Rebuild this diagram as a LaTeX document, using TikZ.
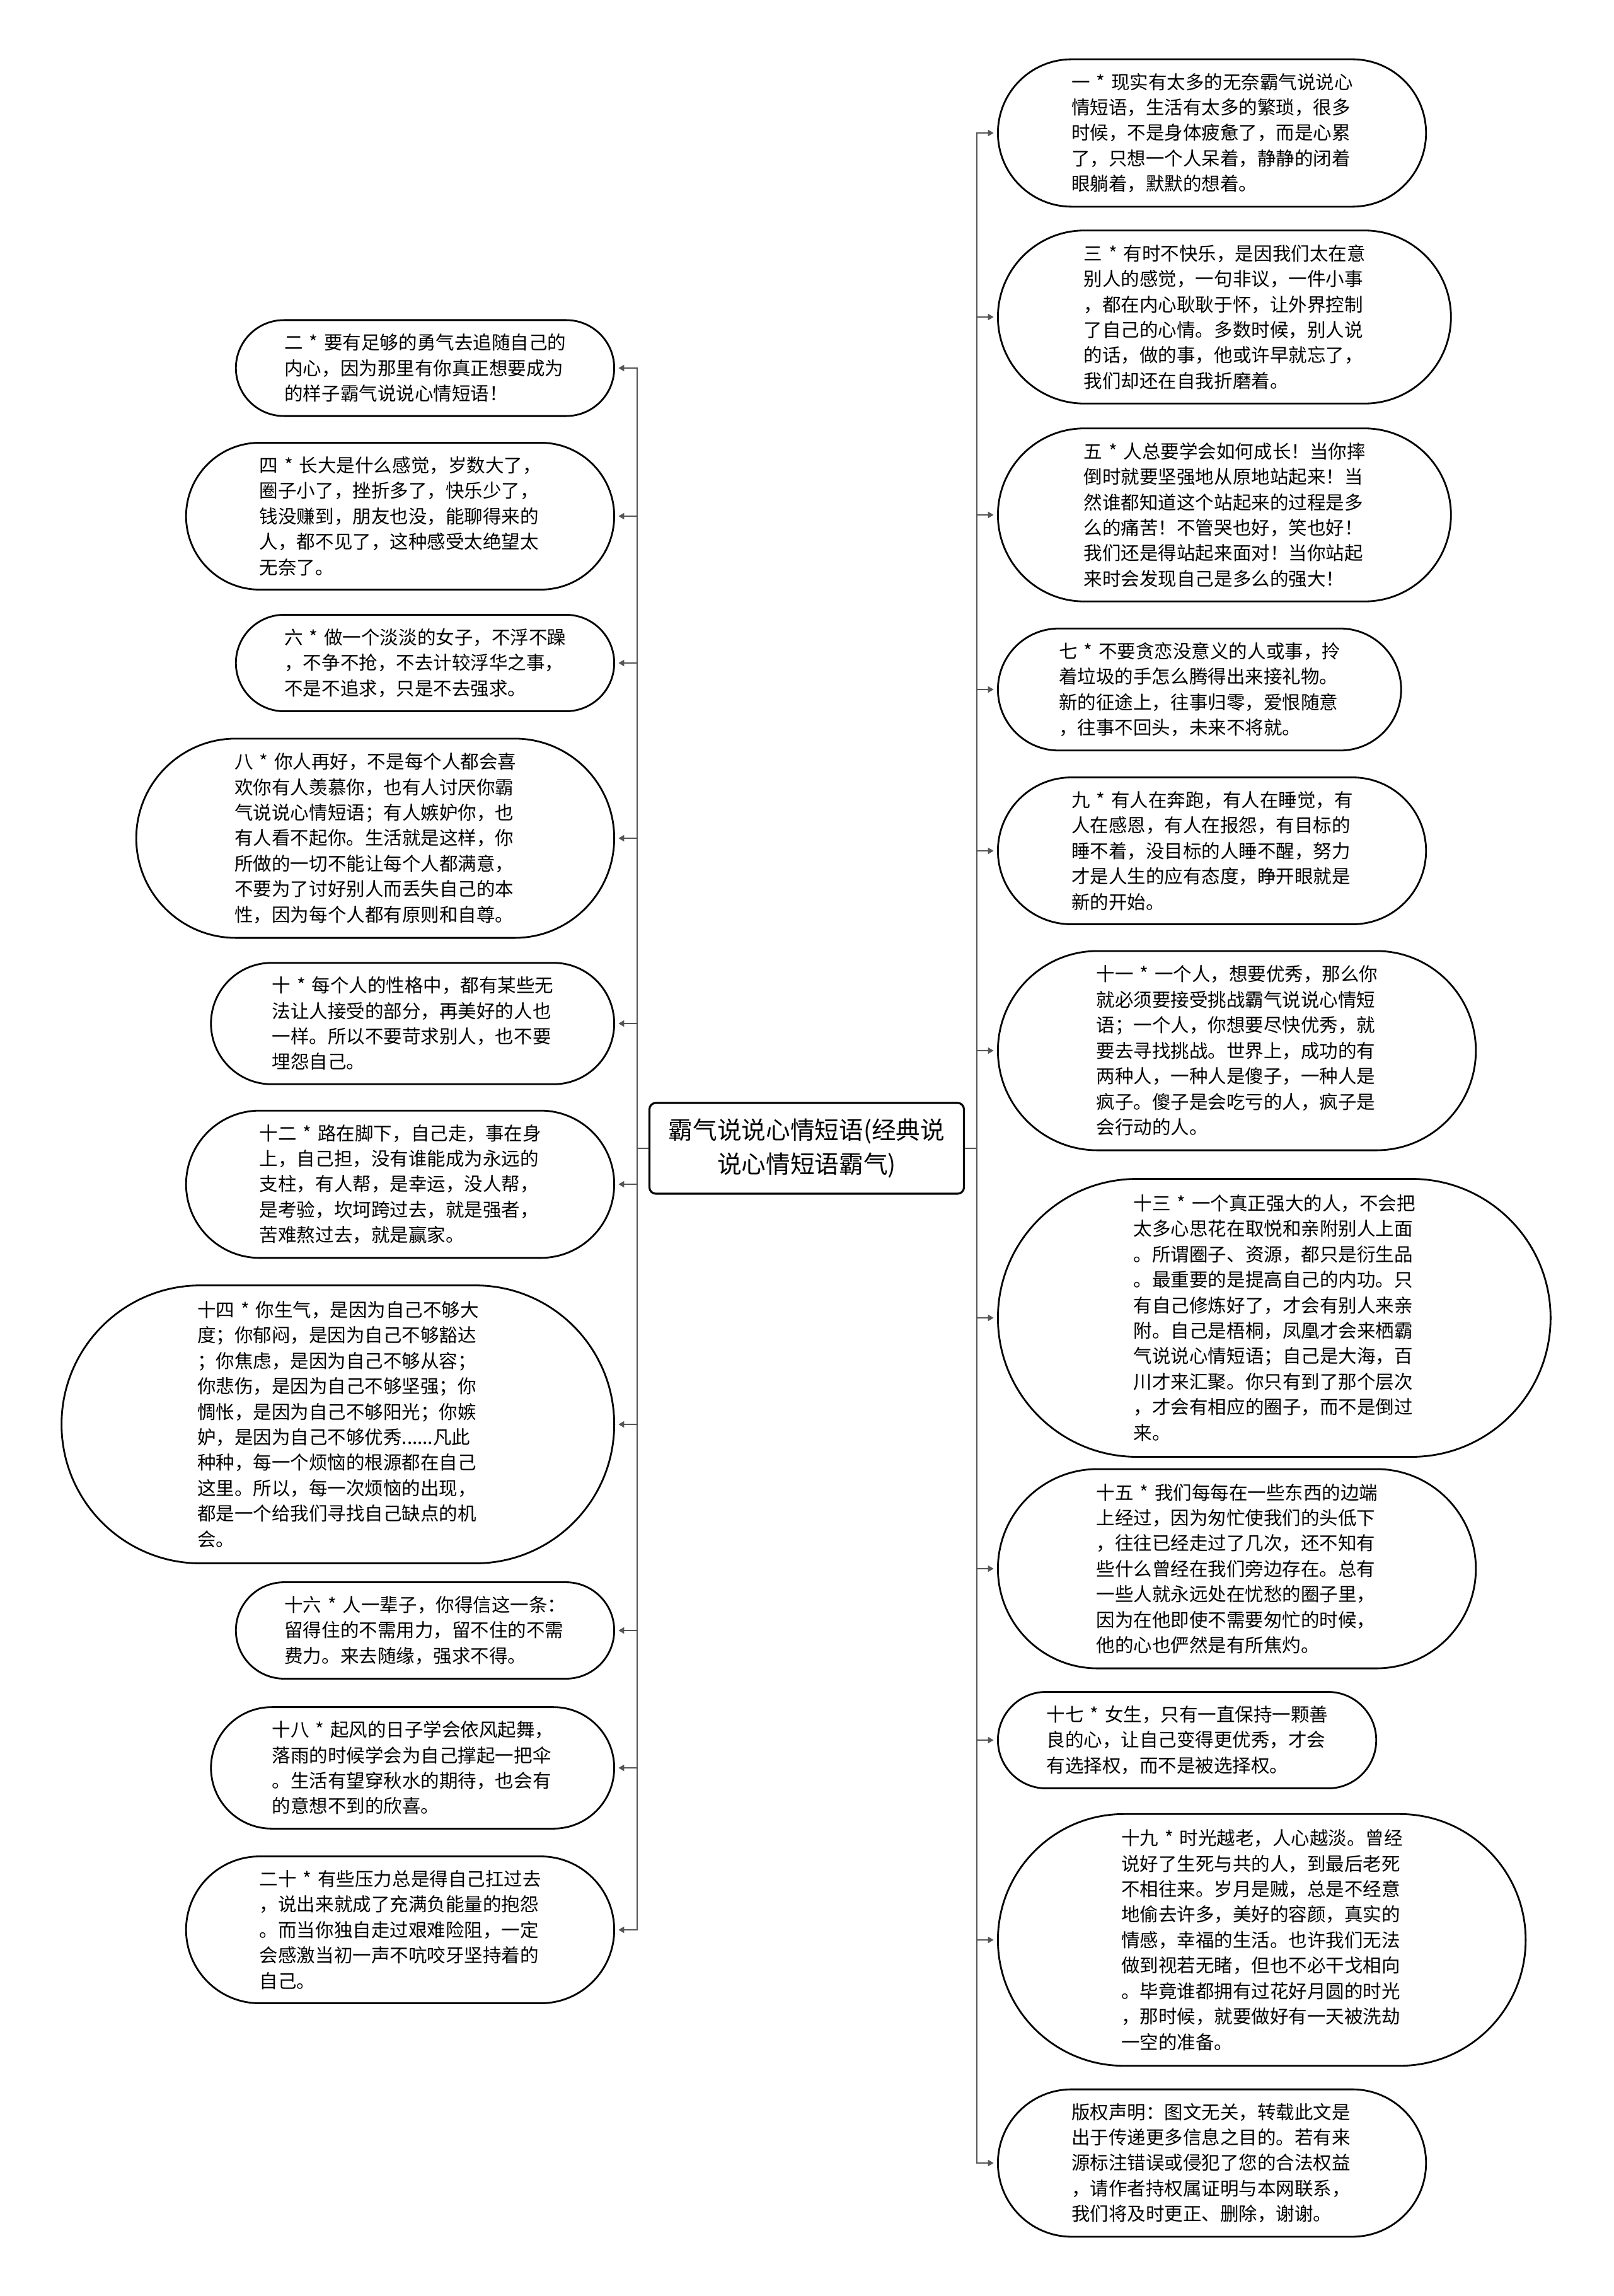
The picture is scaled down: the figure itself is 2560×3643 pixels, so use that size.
\documentclass[tikz,border=0pt]{standalone}
\usepackage{fontspec}
\setmainfont{Noto Sans CJK SC}
\usepackage{tikz}
\usetikzlibrary{shapes.misc, arrows.meta}
\definecolor{branch}{RGB}{85,85,85}
\newcommand{\leaffont}{\fontsize{8.4pt}{11.5pt}\selectfont}
\newcommand{\topicfont}{\fontsize{11pt}{15.2pt}\selectfont}
\tikzstyle{leaf}=[draw,fill=white,rounded rectangle,line width=0.8pt,text width=44.6mm,align=left,inner xsep=0.1mm,inner ysep=2.2mm,font=\leaffont]
\tikzstyle{topic}=[draw,fill=white,rectangle,rounded corners=1mm,line width=0.9pt,minimum width=49.9mm,minimum height=14.4mm,align=center,font=\topicfont]
\tikzstyle{link}=[draw=branch,line width=0.7pt,shorten >=1.5pt]
\tikzset{nlines/.style={minimum height={2.5mm+#1*4.16mm}, minimum width={46mm+0.95*(2.5mm+#1*4.16mm)}}}

\begin{document}
\begin{tikzpicture}[x=0.1mm,y=-0.1mm,>={Triangle[length=2.6pt,width=2.8pt]}]
    \useasboundingbox (0,0) rectangle (2560,3643);
    \node[topic] (hub) at (1280,1822) {霸气说说心情短语(经典说\\说心情短语霸气)};
    % left side
    \node[leaf, nlines=3, anchor=east] (s2) at (976,584) {二~*~要有足够的勇气去追随自己的\\内心，因为那里有你真正想要成为\\的样子霸气说说心情短语！};
    \node[leaf, nlines=5, anchor=east] (s4) at (976,819) {四~*~长大是什么感觉，岁数大了，\\圈子小了，挫折多了，快乐少了，\\钱没赚到，朋友也没，能聊得来的\\人，都不见了，这种感受太绝望太\\无奈了。};
    \node[leaf, nlines=3, anchor=east] (s6) at (976,1052) {六~*~做一个淡淡的女子，不浮不躁\\，不争不抢，不去计较浮华之事，\\不是不追求，只是不去强求。};
    \node[leaf, nlines=7, anchor=east] (s8) at (976,1330) {八~*~你人再好，不是每个人都会喜\\欢你有人羡慕你，也有人讨厌你霸\\气说说心情短语；有人嫉妒你，也\\有人看不起你。生活就是这样，你\\所做的一切不能让每个人都满意，\\不要为了讨好别人而丢失自己的本\\性，因为每个人都有原则和自尊。};
    \node[leaf, nlines=4, anchor=east] (s10) at (976,1624) {十~*~每个人的性格中，都有某些无\\法让人接受的部分，再美好的人也\\一样。所以不要苛求别人，也不要\\埋怨自己。};
    \node[leaf, nlines=5, anchor=east] (s12) at (976,1879) {十二~*~路在脚下，自己走，事在身\\上，自己担，没有谁能成为永远的\\支柱，有人帮，是幸运，没人帮，\\是考验，坎坷跨过去，就是强者，\\苦难熬过去，就是赢家。};
    \node[leaf, nlines=10, anchor=east] (s14) at (976,2260) {十四~*~你生气，是因为自己不够大\\度；你郁闷，是因为自己不够豁达\\；你焦虑，是因为自己不够从容；\\你悲伤，是因为自己不够坚强；你\\惆怅，是因为自己不够阳光；你嫉\\妒，是因为自己不够优秀......凡此\\种种，每一个烦恼的根源都在自己\\这里。所以，每一次烦恼的出现，\\都是一个给我们寻找自己缺点的机\\会。};
    \node[leaf, nlines=3, anchor=east] (s16) at (976,2587) {十六~*~人一辈子，你得信这一条：\\留得住的不需用力，留不住的不需\\费力。来去随缘，强求不得。};
    \node[leaf, nlines=4, anchor=east] (s18) at (976,2805) {十八~*~起风的日子学会依风起舞，\\落雨的时候学会为自己撑起一把伞\\。生活有望穿秋水的期待，也会有\\的意想不到的欣喜。};
    \node[leaf, nlines=5, anchor=east] (s20) at (976,3062) {二十~*~有些压力总是得自己扛过去\\，说出来就成了充满负能量的抱怨\\。而当你独自走过艰难险阻，一定\\会感激当初一声不吭咬牙坚持着的\\自己。};
    % right side
    \node[leaf, nlines=5, anchor=west] (s1) at (1582,211) {一~*~现实有太多的无奈霸气说说心\\情短语，生活有太多的繁琐，很多\\时候，不是身体疲惫了，而是心累\\了，只想一个人呆着，静静的闭着\\眼躺着，默默的想着。};
    \node[leaf, nlines=6, anchor=west] (s3) at (1582,503) {三~*~有时不快乐，是因我们太在意\\别人的感觉，一句非议，一件小事\\，都在内心耿耿于怀，让外界控制\\了自己的心情。多数时候，别人说\\的话，做的事，他或许早就忘了，\\我们却还在自我折磨着。};
    \node[leaf, nlines=6, anchor=west] (s5) at (1582,817) {五~*~人总要学会如何成长！当你摔\\倒时就要坚强地从原地站起来！当\\然谁都知道这个站起来的过程是多\\么的痛苦！不管哭也好，笑也好！\\我们还是得站起来面对！当你站起\\来时会发现自己是多么的强大！};
    \node[leaf, nlines=4, anchor=west] (s7) at (1582,1094) {七~*~不要贪恋没意义的人或事，拎\\着垃圾的手怎么腾得出来接礼物。\\新的征途上，往事归零，爱恨随意\\，往事不回头，未来不将就。};
    \node[leaf, nlines=5, anchor=west] (s9) at (1582,1350) {九~*~有人在奔跑，有人在睡觉，有\\人在感恩，有人在报怨，有目标的\\睡不着，没目标的人睡不醒，努力\\才是人生的应有态度，睁开眼就是\\新的开始。};
    \node[leaf, nlines=7, anchor=west] (s11) at (1582,1667) {十一~*~一个人，想要优秀，那么你\\就必须要接受挑战霸气说说心情短\\语；一个人，你想要尽快优秀，就\\要去寻找挑战。世界上，成功的有\\两种人，一种人是傻子，一种人是\\疯子。傻子是会吃亏的人，疯子是\\会行动的人。};
    \node[leaf, nlines=10, anchor=west] (s13) at (1582,2091) {十三~*~一个真正强大的人，不会把\\太多心思花在取悦和亲附别人上面\\。所谓圈子、资源，都只是衍生品\\。最重要的是提高自己的内功。只\\有自己修炼好了，才会有别人来亲\\附。自己是梧桐，凤凰才会来栖霸\\气说说心情短语；自己是大海，百\\川才来汇聚。你只有到了那个层次\\，才会有相应的圈子，而不是倒过\\来。};
    \node[leaf, nlines=7, anchor=west] (s15) at (1582,2489) {十五~*~我们每每在一些东西的边端\\上经过，因为匆忙使我们的头低下\\，往往已经走过了几次，还不知有\\些什么曾经在我们旁边存在。总有\\一些人就永远处在忧愁的圈子里，\\因为在他即使不需要匆忙的时候，\\他的心也俨然是有所焦灼。};
    \node[leaf, nlines=3, anchor=west] (s17) at (1582,2761) {十七~*~女生，只有一直保持一颗善\\良的心，让自己变得更优秀，才会\\有选择权，而不是被选择权。};
    \node[leaf, nlines=9, anchor=west] (s19) at (1582,3078) {十九~*~时光越老，人心越淡。曾经\\说好了生死与共的人，到最后老死\\不相往来。岁月是贼，总是不经意\\地偷去许多，美好的容颜，真实的\\情感，幸福的生活。也许我们无法\\做到视若无睹，但也不必干戈相向\\。毕竟谁都拥有过花好月圆的时光\\，那时候，就要做好有一天被洗劫\\一空的准备。};
    \node[leaf, nlines=5, anchor=west] (note) at (1582,3432) {版权声明：图文无关，转载此文是\\出于传递更多信息之目的。若有来\\源标注错误或侵犯了您的合法权益\\，请作者持权属证明与本网联系，\\我们将及时更正、删除，谢谢。};
    % branches
    \draw[link,->] (hub.west) -- ++(-18,0) |- (s2.east);
    \draw[link,->] (hub.west) -- ++(-18,0) |- (s4.east);
    \draw[link,->] (hub.west) -- ++(-18,0) |- (s6.east);
    \draw[link,->] (hub.west) -- ++(-18,0) |- (s8.east);
    \draw[link,->] (hub.west) -- ++(-18,0) |- (s10.east);
    \draw[link,->] (hub.west) -- ++(-18,0) |- (s12.east);
    \draw[link,->] (hub.west) -- ++(-18,0) |- (s14.east);
    \draw[link,->] (hub.west) -- ++(-18,0) |- (s16.east);
    \draw[link,->] (hub.west) -- ++(-18,0) |- (s18.east);
    \draw[link,->] (hub.west) -- ++(-18,0) |- (s20.east);
    \draw[link,->] (hub.east) -- ++(19,0) |- (s1.west);
    \draw[link,->] (hub.east) -- ++(19,0) |- (s3.west);
    \draw[link,->] (hub.east) -- ++(19,0) |- (s5.west);
    \draw[link,->] (hub.east) -- ++(19,0) |- (s7.west);
    \draw[link,->] (hub.east) -- ++(19,0) |- (s9.west);
    \draw[link,->] (hub.east) -- ++(19,0) |- (s11.west);
    \draw[link,->] (hub.east) -- ++(19,0) |- (s13.west);
    \draw[link,->] (hub.east) -- ++(19,0) |- (s15.west);
    \draw[link,->] (hub.east) -- ++(19,0) |- (s17.west);
    \draw[link,->] (hub.east) -- ++(19,0) |- (s19.west);
    \draw[link,->] (hub.east) -- ++(19,0) |- (note.west);
\end{tikzpicture}
\end{document}
